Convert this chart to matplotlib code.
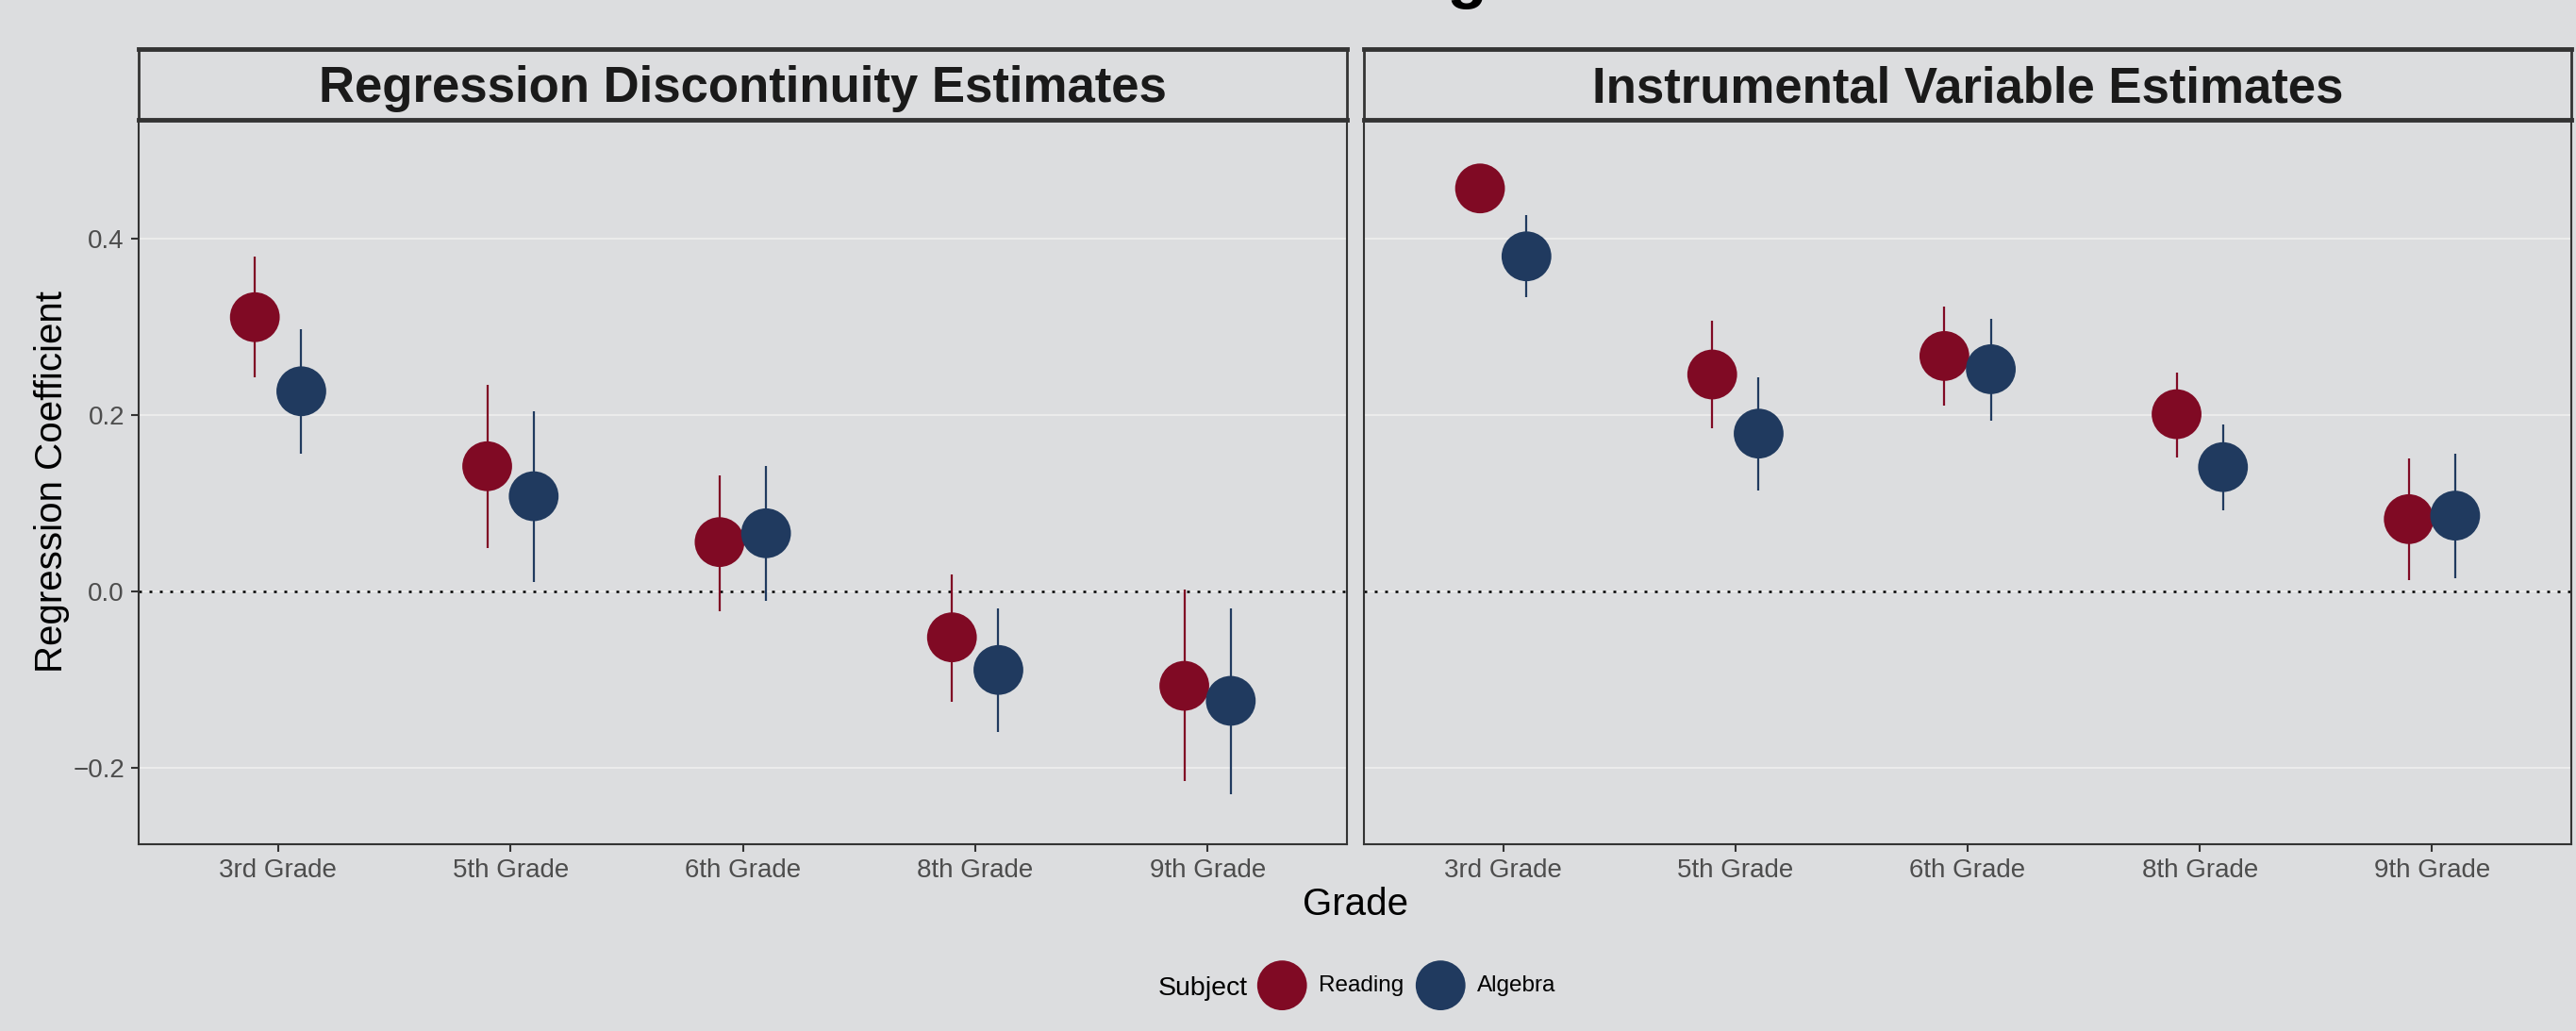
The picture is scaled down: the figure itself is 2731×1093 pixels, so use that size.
import numpy as np
import matplotlib
matplotlib.use('Agg')
import matplotlib.pyplot as plt

# Data
grades = ['3rd Grade', '5th Grade', '6th Grade', '8th Grade', '9th Grade']
panels = ['Regression Discontinuity Estimates', 'Instrumental Variable Estimates']
subjects = ['Reading', 'Algebra']

# Regression discontinuity estimates (point, lower, upper)
rd_reading = [0.311, 0.142, 0.056, -0.052, -0.107]
rd_reading_lo = [0.243, 0.049, -0.022, -0.125, -0.215]
rd_reading_hi = [0.380, 0.234, 0.132, 0.019, 0.002]
rd_algebra = [0.227, 0.108, 0.066, -0.089, -0.124]
rd_algebra_lo = [0.156, 0.011, -0.011, -0.159, -0.230]
rd_algebra_hi = [0.297, 0.204, 0.142, -0.019, -0.019]

# Instrumental variable estimates (point, lower, upper)
iv_reading = [0.457, 0.246, 0.267, 0.201, 0.082]
iv_reading_lo = [0.437, 0.185, 0.211, 0.152, 0.013]
iv_reading_hi = [0.477, 0.307, 0.323, 0.248, 0.151]
iv_algebra = [0.380, 0.179, 0.252, 0.141, 0.086]
iv_algebra_lo = [0.334, 0.115, 0.194, 0.092, 0.015]
iv_algebra_hi = [0.427, 0.243, 0.309, 0.189, 0.156]

yticks = [-0.2, 0.0, 0.2, 0.4]

# Style
bg = '#DCDDDF'
c_read = '#800A24'
c_alg = '#203A5F'
dark = '#333333'
plt.rcParams['font.family'] = ['Liberation Sans', 'DejaVu Sans']

W, H = 2731, 1093
fig = plt.figure(figsize=(W / 100, H / 100), dpi=100, facecolor=bg)

panel_data = [
    ((rd_reading, rd_reading_lo, rd_reading_hi), (rd_algebra, rd_algebra_lo, rd_algebra_hi)),
    ((iv_reading, iv_reading_lo, iv_reading_hi), (iv_algebra, iv_algebra_lo, iv_algebra_hi)),
]
lefts = [147, 1446]
widths = [1281, 1280]
top_px, bot_px = 127, 895
strip_top = 52

x = np.arange(1, len(grades) + 1)
dodge = 0.1
handles = []

for i, (name, (read, alg)) in enumerate(zip(panels, panel_data)):
    ax = fig.add_axes([lefts[i] / W, 1 - bot_px / H, widths[i] / W, (bot_px - top_px) / H])
    ax.set_facecolor(bg)
    ax.set_axisbelow(True)
    ax.yaxis.grid(True, color='#EBEBEB', lw=1.5)
    ax.xaxis.grid(False)
    ax.axhline(0, color='black', lw=1.8, linestyle=(0, (1.2, 3.2)), zorder=1.5)

    for (vals, lo, hi), off, col in [(read, -dodge, c_read), (alg, dodge, c_alg)]:
        ax.vlines(x + off, lo, hi, color=col, lw=1.6, zorder=2)
        sc = ax.scatter(x + off, vals, s=1444, color=col, edgecolors='none', zorder=3)
        if i == 0:
            handles.append(sc)

    ax.set_xlim(0.4, 5.6)
    ax.set_ylim(-0.2866, 0.5348)
    ax.set_xticks(x)
    ax.set_xticklabels(grades)
    ax.set_yticks(yticks)
    ax.set_yticklabels(['\u22120.2', '0.0', '0.2', '0.4'])

    for sp in ax.spines.values():
        sp.set_color(dark)
        sp.set_linewidth(1.5)

    ax.tick_params(axis='x', length=5.8, width=1.5, color=dark, labelsize=20,
                   labelcolor='#4D4D4D', pad=5)
    if i == 0:
        ax.tick_params(axis='y', length=5.8, width=1.5, color=dark, labelsize=20,
                       labelcolor='#4D4D4D', pad=5)
    else:
        ax.tick_params(axis='y', length=0, labelleft=False)

    # facet strip
    sax = fig.add_axes([lefts[i] / W, 1 - top_px / H, widths[i] / W, (top_px - strip_top) / H])
    sax.set_facecolor(bg)
    sax.set_xticks([])
    sax.set_yticks([])
    for k, sp in sax.spines.items():
        sp.set_color(dark)
        sp.set_linewidth(3.5 if k in ('top', 'bottom') else 2.0)
    sax.text(0.5, 0.253, name, ha='center', va='baseline', fontsize=38,
             fontweight='bold', color='#1A1A1A', transform=sax.transAxes)

# title sits mostly above the canvas, only a descender shows
fig.text(1577 / W, 1 + 3.5 / H, 'Estimated Effects of Tracking', ha='right',
         va='baseline', fontsize=50, fontweight='bold', color='black')

# axis labels
fig.text(55 / W, 1 - 511 / H, 'Regression Coefficient', rotation=90, ha='center',
         va='center', fontsize=29, color='black')
fig.text(1437 / W, 1 - 970 / H, 'Grade', ha='center', va='baseline', fontsize=29,
         color='black')

# legend
fig.text(1228 / W, 1 - 1055 / H, 'Subject', ha='left', va='baseline', fontsize=20.5,
         color='black')
fig.legend(handles=handles, labels=subjects, loc='center', bbox_to_anchor=(1491 / W, 1 - 1045 / H),
           ncol=2, frameon=False, fontsize=17.5, handletextpad=0.5, columnspacing=0.5,
           handlelength=2.2, borderpad=0, scatterpoints=1, borderaxespad=0)

fig.savefig('out.png', dpi=100, facecolor=bg)
